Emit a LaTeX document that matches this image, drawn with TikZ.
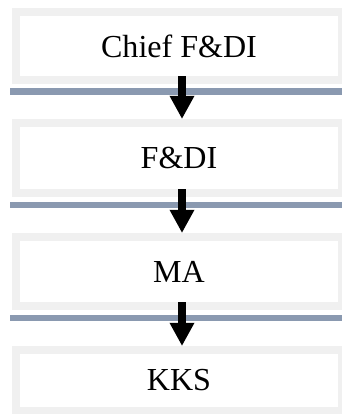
\documentclass[tikz,border=0pt]{standalone}
\usepackage{fontspec}
\setmainfont{Liberation Serif}
\usepackage{tikz}
\usetikzlibrary{arrows.meta}
\definecolor{concrete}{RGB}{240, 240, 240}
\definecolor{slategray}{RGB}{138, 153, 176}

\tikzset{
    level/.style={rectangle, fill=white, draw=concrete, line width=0.2cm,
                  minimum width=8.15cm, inner sep=0pt,
                  font=\fontsize{22.8}{27}\selectfont},
    ledge/.style={fill=slategray},
    flow/.style={-{Triangle[width=0.58cm, length=0.58cm]}, line width=0.2cm,
                 shorten <=-0.20cm}
}

\begin{document}
\begin{tikzpicture}
            \useasboundingbox (0.00, 0.00) rectangle (8.55, 10.35);
            % the four levels, top to bottom
            \node[level, minimum height=1.700cm] (chief) at (4.475, 9.2000) {Chief F\&DI};
            \node[level, minimum height=1.750cm] (fdi)   at (4.475, 6.4000) {F\&DI};
            \node[level, minimum height=1.725cm] (ma)    at (4.475, 3.5625) {MA};
            \node[level, minimum height=1.525cm] (kks)   at (4.475, 0.8375) {KKS};
            % ledges under the levels
            \fill[ledge] ([shift={(-0.05,-0.10)}]chief.south west) rectangle ([shift={(0.10,-0.27)}]chief.south east);
            \fill[ledge] ([shift={(-0.05,-0.12)}]fdi.south west)   rectangle ([shift={(0.10,-0.27)}]fdi.south east);
            \fill[ledge] ([shift={(-0.05,-0.12)}]ma.south west)    rectangle ([shift={(0.10,-0.27)}]ma.south east);
            % arrows
            \draw[flow] ([xshift=0.075cm]chief.south) -- ([xshift=0.075cm]fdi.north);
            \draw[flow] ([xshift=0.075cm]fdi.south)   -- ([xshift=0.075cm]ma.north);
            \draw[flow] ([xshift=0.075cm]ma.south)    -- ([xshift=0.075cm]kks.north);
        \end{tikzpicture}
\end{document}
